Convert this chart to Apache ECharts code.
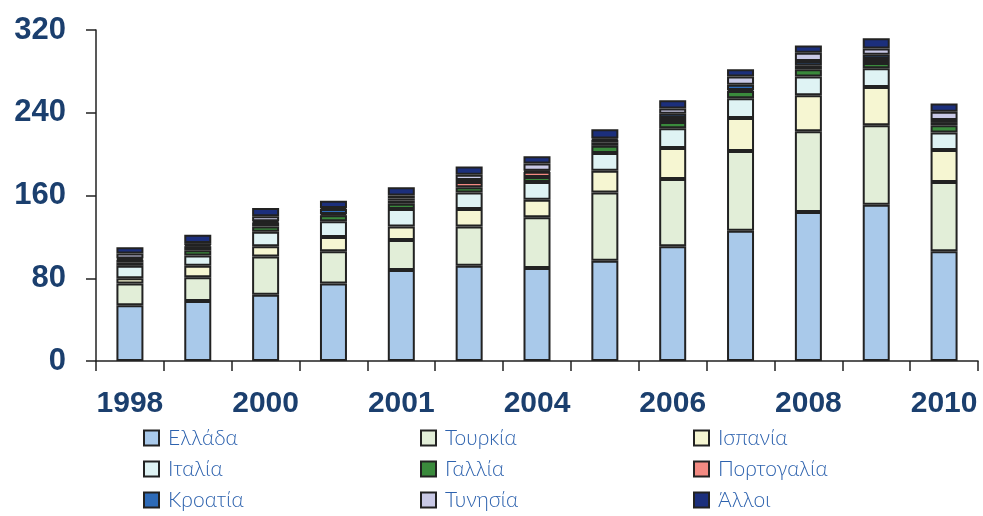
<!DOCTYPE html>
<html><head><meta charset="utf-8">
<script src="https://cdn.jsdelivr.net/npm/echarts@6/dist/echarts.min.js"></script>
<style>html,body{margin:0;padding:0;background:#fff}#c{width:983px;height:516px}</style>
</head><body><div id="c"></div>
<script>
const categories = ['1998','1999','2000','2001','2002','2003','2004','2005','2006','2007','2008','2009','2010'];
const tickLabels = ['1998','','2000','','2001','','2004','','2006','','2008','','2010'];
const yTicks = [0, 80, 160, 240, 320];
const names = ['Ελλάδα','Τουρκία','Ισπανία','Ιταλία','Γαλλία','Πορτογαλία','Κροατία','Τυνησία','Άλλοι'];
const greece   = [54, 58, 64, 75, 88, 92, 90, 97, 111, 126, 144, 151, 106];
const turkey   = [21, 23, 37, 31, 29, 38, 49, 66, 65, 77, 78, 77, 67];
const spain    = [5, 11, 10, 14, 13, 17, 17, 21, 30, 32, 35, 37, 31];
const italy    = [12, 10, 14, 15, 17, 16, 17, 17, 19, 19, 18, 18, 17];
const france   = [3, 5, 5, 6, 5, 5, 5, 7, 6, 7, 7, 5, 7];
const portugal = [3, 4, 4, 1, 3, 5, 5, 3, 4, 1, 4, 4, 3];
const croatia  = [1, 1, 1, 5, 2, 2, 1, 3, 4, 5, 4, 4, 2];
const tunisia  = [5, 2, 5, 1, 3, 5, 7, 1, 5, 8, 8, 6, 8];
const others   = [6, 8, 8, 7, 8, 8, 7, 9, 8, 7, 7, 10, 8];
const colors = ['#a9c9ea','#e2eed8','#f6f6d2','#dff3f4','#3a8a3c','#f28a82','#2e6bb8','#c9c9e6','#1c2f7c'];
const seriesData = [greece, turkey, spain, italy, france, portugal, croatia, tunisia, others];

const chart = echarts.init(document.getElementById('c'));
const legendLeft = [143, 420, 693];
const legendTop = [427, 458, 489];
chart.setOption({
  animation: false,
  grid: {left: 96, right: 5, top: 30, bottom: 155, containLabel: false},
  legend: names.map((n, k) => ({
    orient: 'horizontal', left: legendLeft[k % 3], top: legendTop[Math.floor(k / 3)],
    padding: 0,
    itemWidth: 15, itemHeight: 15, itemGap: 0,
    icon: 'rect',
    data: [n],
    textStyle: {fontFamily: 'Lato', fontWeight: 300, fontSize: 21, lineHeight: 22, color: '#2d62ae', padding: [0,0,0,4]},
    selectedMode: false
  })),
  xAxis: {
    type: 'category', data: categories, boundaryGap: true,
    axisLine: {lineStyle: {color: '#222', width: 1.5}},
    axisTick: {show: true, interval: 0, length: 10, lineStyle: {color: '#222', width: 1.5}},
    axisLabel: {interval: 0, margin: 28, fontFamily: '"Liberation Sans", Arial', fontWeight: 'bold', fontSize: 30, color: '#1b3f6e',
      formatter: (v, idx) => tickLabels[idx]}
  },
  yAxis: {
    type: 'value', min: 0, max: 320, interval: 80,
    axisLine: {show: true, lineStyle: {color: '#222', width: 1.5}},
    axisTick: {show: true, length: 10, lineStyle: {color: '#222', width: 1.5}},
    splitLine: {show: false},
    axisLabel: {margin: 30, fontFamily: '"Liberation Sans", Arial', fontWeight: 'bold', fontSize: 31, color: '#1b3f6e',
      formatter: v => yTicks.includes(v) ? String(v) : ''}
  },
  series: seriesData.map((d, i) => ({
    name: names[i], type: 'bar', stack: 'total', data: d, barWidth: 27,
    itemStyle: {color: colors[i], borderColor: '#222', borderWidth: 2}
  }))
});
</script></body></html>
